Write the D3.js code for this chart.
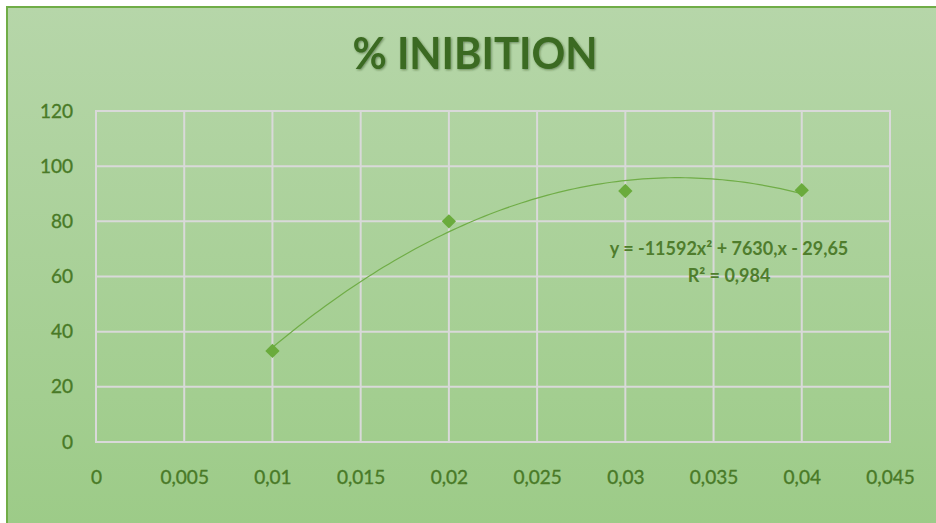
<!DOCTYPE html>
<html>
<head>
<meta charset="utf-8">
<script src="https://cdn.jsdelivr.net/npm/d3@7"></script>
<style>
  body { margin: 0; background: #fff; }
  svg { display: block; }
</style>
</head>
<body>
<svg id="chart" width="936" height="523"></svg>
<script>
var width = 936, height = 523

// data
var concentrations = [0.01, 0.02, 0.03, 0.04]
var inhibition = [33, 80, 91, 91.3]
var xTicks = [0, 0.005, 0.01, 0.015, 0.02, 0.025, 0.03, 0.035, 0.04, 0.045]
var yTicks = [0, 20, 40, 60, 80, 100, 120]
var titleText = '% INIBITION'
var equationText = ['y = -11592x² + 7630,x - 29,65', 'R² = 0,984']

var svg = d3.select('svg#chart')

var defs = svg.append('defs')
var grad = defs.append('linearGradient').attr('id', 'bg')
  .attr('x1', 0).attr('y1', 0).attr('x2', 0).attr('y2', 1)
grad.append('stop').attr('offset', '0%').attr('stop-color', '#b6d6a9')
grad.append('stop').attr('offset', '100%').attr('stop-color', '#9ccb87')

var shadow = defs.append('filter').attr('id', 'shadow')
  .attr('x', '-10%').attr('y', '-20%').attr('width', '120%').attr('height', '150%')
shadow.append('feDropShadow').attr('dx', 1).attr('dy', 1).attr('stdDeviation', 1)
  .attr('flood-color', '#1f3d10').attr('flood-opacity', 0.5)

// chart frame (right and bottom edges run off the picture)
svg.append('rect')
  .attr('x', 7).attr('y', 7).attr('width', 940).attr('height', 530)
  .attr('fill', 'url(#bg)')
  .attr('stroke', '#70ad47').attr('stroke-width', 2)

var x = d3.scaleLinear().domain([0, 0.045]).range([96, 890])
var y = d3.scaleLinear().domain([0, 120]).range([442, 111])

var fmt = function(d) { return d === 0 ? '0' : String(d).replace('.', ',') }

// grid
var grid = svg.append('g').attr('class', 'grid')
grid.selectAll('line.v').data(xTicks).enter().append('line').attr('class', 'v')
  .attr('x1', function(d) { return x(d) }).attr('x2', function(d) { return x(d) })
  .attr('y1', y(0)).attr('y2', y(120))
  .attr('stroke', '#d9d9d9').attr('stroke-width', 2)
grid.selectAll('line.h').data(yTicks).enter().append('line').attr('class', 'h')
  .attr('y1', function(d) { return y(d) }).attr('y2', function(d) { return y(d) })
  .attr('x1', x(0) - 1).attr('x2', x(0.045) + 1)
  .attr('stroke', '#d9d9d9').attr('stroke-width', 2)

// axes labels through d3 axes, then strip lines
var xAxis = svg.append('g')
  .attr('transform', 'translate(0,' + 470 + ')')
  .call(d3.axisBottom(x).tickValues(xTicks).tickFormat(fmt).tickSize(0).tickPadding(0))
var yAxis = svg.append('g')
  .attr('transform', 'translate(' + 73 + ',0)')
  .call(d3.axisLeft(y).tickValues(yTicks).tickFormat(fmt).tickSize(0).tickPadding(0))

svg.selectAll('.domain').remove()
svg.selectAll('.tick text')
  .attr('fill', '#497a27')
  .attr('stroke', '#497a27').attr('stroke-width', 0.35)
  .style('font-family', 'Lato, "Open Sans", sans-serif')
  .style('font-size', '19px')
xAxis.selectAll('.tick text').attr('dy', '0.71em')
yAxis.selectAll('.tick text').attr('dy', '0.32em')

// polynomial trendline (least squares, order 2) from the data points
function fitQuadratic(xs, ys) {
  var n = xs.length, s = [0, 0, 0, 0, 0], t = [0, 0, 0]
  for (var i = 0; i < n; i++) {
    var p = 1
    for (var k = 0; k < 5; k++) { s[k] += p; if (k < 3) t[k] += p * ys[i]; p *= xs[i] }
  }
  var m = [[s[0], s[1], s[2], t[0]], [s[1], s[2], s[3], t[1]], [s[2], s[3], s[4], t[2]]]
  for (var c = 0; c < 3; c++) {
    for (var r = c + 1; r < 3; r++) {
      var f = m[r][c] / m[c][c]
      for (var j = c; j < 4; j++) m[r][j] -= f * m[c][j]
    }
  }
  var b = [0, 0, 0]
  for (var r2 = 2; r2 >= 0; r2--) {
    var v = m[r2][3]
    for (var j2 = r2 + 1; j2 < 3; j2++) v -= m[r2][j2] * b[j2]
    b[r2] = v / m[r2][r2]
  }
  return b
}
var coef = fitQuadratic(concentrations, inhibition)
var xs = d3.range(0, 101).map(function(i) {
  return concentrations[0] + (concentrations[3] - concentrations[0]) * i / 100
})
var line = d3.line()
  .x(function(d) { return x(d) })
  .y(function(d) { return y(coef[0] + coef[1] * d + coef[2] * d * d) })
svg.append('path').datum(xs)
  .attr('d', line)
  .attr('fill', 'none')
  .attr('stroke', '#70ad47')
  .attr('stroke-width', 1.2)

// markers
svg.selectAll('path.marker').data(concentrations).enter().append('path')
  .attr('class', 'marker')
  .attr('d', d3.symbol().type(d3.symbolDiamond2).size(130))
  .attr('transform', function(d, i) { return 'translate(' + x(d) + ',' + y(inhibition[i]) + ')' })
  .attr('fill', '#6aab3c')

// title
svg.append('text')
  .attr('x', 475).attr('y', 69)
  .attr('text-anchor', 'middle')
  .attr('fill', '#3b6b20')
  .attr('filter', 'url(#shadow)')
  .attr('textLength', 245).attr('lengthAdjust', 'spacingAndGlyphs')
  .style('font-family', 'Lato, "Open Sans", sans-serif')
  .style('font-weight', 'bold')
  .style('font-size', '43px')
  .text(titleText)

// trendline label
svg.selectAll('text.eq').data(equationText).enter().append('text')
  .attr('class', 'eq')
  .attr('x', 729)
  .attr('y', function(d, i) { return 255 + i * 27 })
  .attr('text-anchor', 'middle')
  .attr('fill', '#4f7d2d')
  .style('font-family', 'Lato, "Open Sans", sans-serif')
  .style('font-weight', 'bold')
  .style('font-size', '18px')
  .text(function(d) { return d })
</script>
</body>
</html>
